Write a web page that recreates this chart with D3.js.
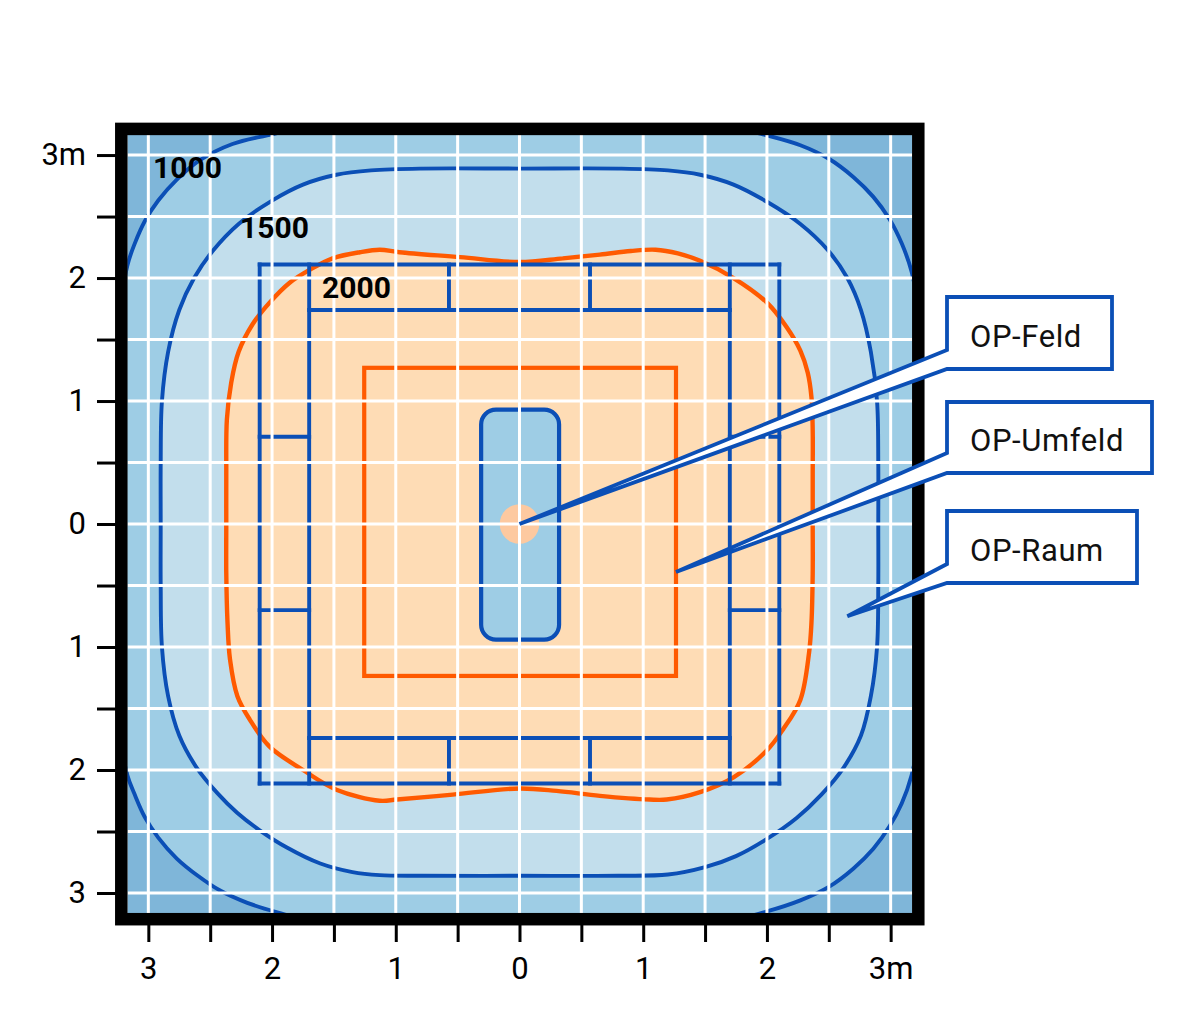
<!DOCTYPE html>
<html><head><meta charset="utf-8">
<script src="https://cdn.jsdelivr.net/npm/d3@7"></script>
<style>body{margin:0;background:#fff}</style>
</head><body>
<svg id="chart" width="1200" height="1017"></svg>
<script>
// ---- data (metres) ----
const xTickValues = [-3,-2.5,-2,-1.5,-1,-0.5,0,0.5,1,1.5,2,2.5,3];
const xTickLabels = ["3","","2","","1","","0","","1","","2","","3m"];
const yTickValues = [3,2.5,2,1.5,1,0.5,0,-0.5,-1,-1.5,-2,-2.5,-3];
const yTickLabels = ["3m","","2","","1","","0","","1","","2","","3"];
const gridValues = [-3,-2.5,-2,-1.5,-1,-0.5,0,0.5,1,1.5,2,2.5,3];

const contourLevels = [1000, 1500, 2000];

const contour1000 = [
  [0,3.34],[1.0,3.31],[1.6,3.25],[2.0,3.16],[2.27,3.08],[2.5,2.97],[2.7,2.82],[2.86,2.66],[2.99,2.48],[3.09,2.28],[3.17,2.05],[3.25,1.6],[3.31,1.0],[3.34,0],
  [3.31,-1.0],[3.25,-1.6],[3.17,-2.04],[3.09,-2.27],[2.99,-2.46],[2.86,-2.64],[2.7,-2.8],[2.5,-2.95],[2.27,-3.06],[2.0,-3.15],[1.6,-3.25],[1.0,-3.31],[0,-3.34],
  [-1.0,-3.31],[-1.6,-3.25],[-1.95,-3.16],[-2.2,-3.08],[-2.42,-2.98],[-2.6,-2.86],[-2.77,-2.72],[-2.92,-2.55],[-3.03,-2.38],[-3.11,-2.2],[-3.17,-2.04],[-3.25,-1.6],[-3.31,-1.0],[-3.34,0],
  [-3.31,1.0],[-3.25,1.6],[-3.17,2.1],[-3.11,2.28],[-3.03,2.46],[-2.92,2.63],[-2.77,2.8],[-2.58,2.96],[-2.32,3.09],[-2.04,3.16],[-1.6,3.25],[-1.0,3.31]
];

const contour1500 = [
  [0,2.89],[0.8,2.89],[1.2,2.875],[1.46,2.84],[1.73,2.76],[2.0,2.62],[2.27,2.44],[2.49,2.23],[2.65,2.0],[2.76,1.74],[2.84,1.4],[2.89,1.0],[2.9,0.5],[2.9,0],
  [2.9,-0.5],[2.89,-1.0],[2.84,-1.4],[2.76,-1.72],[2.62,-1.98],[2.44,-2.2],[2.24,-2.39],[2.0,-2.56],[1.75,-2.7],[1.5,-2.79],[1.2,-2.85],[0.8,-2.86],[0,-2.86],
  [-0.8,-2.86],[-1.13,-2.855],[-1.35,-2.83],[-1.61,-2.76],[-1.88,-2.63],[-2.1,-2.49],[-2.28,-2.35],[-2.44,-2.19],[-2.61,-1.98],[-2.75,-1.72],[-2.84,-1.4],[-2.89,-1.0],[-2.9,-0.5],[-2.9,0],
  [-2.9,0.5],[-2.89,1.0],[-2.84,1.4],[-2.75,1.74],[-2.63,2.0],[-2.48,2.22],[-2.27,2.44],[-2.0,2.63],[-1.75,2.76],[-1.48,2.84],[-1.2,2.875],[-0.8,2.89]
];

const contour2000 = [
  [0,2.13],[0.35,2.16],[0.65,2.19],[0.9,2.22],[1.1,2.23],[1.28,2.2],[1.46,2.14],[1.73,2.0],[2.0,1.8],[2.16,1.6],[2.27,1.41],[2.33,1.23],[2.36,1.03],[2.37,0.76],[2.37,0.4],[2.37,0],
  [2.37,-0.4],[2.36,-0.8],[2.34,-1.05],[2.27,-1.43],[2.13,-1.67],[2.0,-1.84],[1.73,-2.06],[1.46,-2.18],[1.19,-2.24],[1.05,-2.24],[0.65,-2.21],[0.3,-2.17],[0,-2.15],
  [-0.54,-2.2],[-0.99,-2.24],[-1.13,-2.25],[-1.48,-2.16],[-1.75,-2.0],[-2.02,-1.81],[-2.18,-1.59],[-2.28,-1.4],[-2.34,-1.1],[-2.36,-0.8],[-2.37,-0.4],[-2.37,0],
  [-2.37,0.4],[-2.365,0.85],[-2.33,1.15],[-2.27,1.4],[-2.16,1.62],[-2.02,1.8],[-1.86,1.96],[-1.69,2.07],[-1.51,2.16],[-1.29,2.21],[-1.13,2.23],[-0.97,2.21],[-0.48,2.17]
];

// OP-Tisch (table) outline segments [x1,y1,x2,y2]
const tableSegments = [
  [-2.1,2.11,2.1,2.11],[2.1,2.11,2.1,-2.11],[2.1,-2.11,-2.1,-2.11],[-2.1,-2.11,-2.1,2.11],
  [-1.7,2.11,-1.7,-2.11],[1.7,2.11,1.7,-2.11],
  [-1.7,1.74,1.7,1.74],[-1.7,-1.74,1.7,-1.74],
  [-0.57,1.74,-0.57,2.11],[0.57,1.74,0.57,2.11],[-0.57,-1.74,-0.57,-2.11],[0.57,-1.74,0.57,-2.11],
  [-2.1,0.71,-1.7,0.71],[1.7,0.71,2.1,0.71],[-2.1,-0.70,-1.7,-0.70],[1.7,-0.70,2.1,-0.70]
];
const umfeldRect = [-1.255, 1.27, 1.265, -1.235];   // x1,y1,x2,y2
const feldRect = [-0.31, 0.93, 0.32, -0.94];
const feldCorner = 0.12;
const centerSpot = [0, 0, 0.16];
const calloutNames = ["OP-Feld", "OP-Umfeld", "OP-Raum"];
const calloutTargets = [[0.0, 0.0], [1.265, -0.39], [2.65, -0.75]];

// ---- colours ----
const C = {
  dark: "#7fb6d9", mid: "#9ecde5", light: "#c2deec", peach: "#fedcb5",
  spot: "#fdc9a0", blue: "#0b4fb6", orange: "#ff5a00"
};

const svg = d3.select("#chart");
const x = d3.scaleLinear().domain([-3.17, 3.175]).range([127.3, 912.3]);
const y = d3.scaleLinear().domain([3.163, -3.165]).range([135, 913.3]);

svg.append("defs").append("clipPath").attr("id", "plotClip")
  .append("rect").attr("x", 127.3).attr("y", 135).attr("width", 785).attr("height", 778.3);

const plot = svg.append("g").attr("clip-path", "url(#plotClip)");
plot.append("rect").attr("x", 127.3).attr("y", 135).attr("width", 785).attr("height", 778.3).attr("fill", C.dark);

const ring = d3.line().x(d => x(d[0])).y(d => y(d[1])).curve(d3.curveCatmullRomClosed.alpha(0.5));
const contours = [
  {pts: contour1000, fill: C.mid, stroke: C.blue, w: 3.9},
  {pts: contour1500, fill: C.light, stroke: C.blue, w: 3.9},
  {pts: contour2000, fill: C.peach, stroke: C.orange, w: 4.4}
];
contours.forEach(c => {
  plot.append("path").attr("d", ring(c.pts)).attr("fill", c.fill);
});
contours.forEach(c => {
  plot.append("path").attr("d", ring(c.pts)).attr("fill", "none")
    .attr("stroke", c.stroke).attr("stroke-width", c.w);
});

// table
plot.append("g").selectAll("line").data(tableSegments).join("line")
  .attr("x1", d => x(d[0])).attr("y1", d => y(d[1]))
  .attr("x2", d => x(d[2])).attr("y2", d => y(d[3]))
  .attr("stroke", C.blue).attr("stroke-width", 3.9).attr("stroke-linecap", "square");

// OP-Umfeld
plot.append("rect")
  .attr("x", x(umfeldRect[0])).attr("y", y(umfeldRect[1]))
  .attr("width", x(umfeldRect[2]) - x(umfeldRect[0])).attr("height", y(umfeldRect[3]) - y(umfeldRect[1]))
  .attr("fill", "none").attr("stroke", C.orange).attr("stroke-width", 4.2);

// OP-Feld
plot.append("rect")
  .attr("x", x(feldRect[0])).attr("y", y(feldRect[1]))
  .attr("width", x(feldRect[2]) - x(feldRect[0])).attr("height", y(feldRect[3]) - y(feldRect[1]))
  .attr("rx", x(feldCorner) - x(0)).attr("ry", x(feldCorner) - x(0))
  .attr("fill", C.mid).attr("stroke", C.blue).attr("stroke-width", 4.2);
plot.append("circle").attr("cx", x(centerSpot[0])).attr("cy", y(centerSpot[1]))
  .attr("r", x(centerSpot[2]) - x(0)).attr("fill", C.spot);

// grid
const grid = plot.append("g").attr("stroke", "#fff").attr("stroke-width", 3);
grid.selectAll(".gv").data(gridValues).join("line").attr("class", "gv")
  .attr("x1", d => x(d)).attr("x2", d => x(d)).attr("y1", 135).attr("y2", 913.3);
grid.selectAll(".gh").data(gridValues).join("line").attr("class", "gh")
  .attr("y1", d => y(d)).attr("y2", d => y(d)).attr("x1", 127.3).attr("x2", 912.3);

// frame
svg.append("rect").attr("x", 121.3).attr("y", 128.9).attr("width", 797).attr("height", 790.3)
  .attr("fill", "none").attr("stroke", "#000").attr("stroke-width", 12.5);

// axes
const FONT = "Roboto, 'DejaVu Sans', sans-serif";
const yAxis = d3.axisLeft(y).tickValues(yTickValues).tickSize(19).tickPadding(11)
  .tickFormat((d, i) => yTickLabels[i]);
const gy = svg.append("g").attr("transform", "translate(116,0)").call(yAxis);
const xAxis = d3.axisBottom(x).tickValues(xTickValues).tickSize(17).tickPadding(15)
  .tickFormat((d, i) => xTickLabels[i]);
const gx = svg.append("g").attr("transform", "translate(0,925)").call(xAxis);
[gx, gy].forEach(g => {
  g.select(".domain").remove();
  g.selectAll(".tick line").attr("stroke", "#000").attr("stroke-width", 3);
  g.selectAll(".tick text").attr("font-family", FONT).attr("font-size", 31).attr("fill", "#000");
});

// contour labels
const labelPos = [[153, 178], [240, 238], [322, 298]];
svg.append("g").selectAll("text").data(contourLevels).join("text")
  .attr("x", (d, i) => labelPos[i][0]).attr("y", (d, i) => labelPos[i][1])
  .attr("font-family", FONT).attr("font-weight", "bold").attr("font-size", 30)
  .attr("fill", "#000").text(d => d);

// callouts
const boxes = [
  {T: 297, B: 369, R: 1112, open: 19},
  {T: 402, B: 473, R: 1152, open: 20},
  {T: 511, B: 583, R: 1137, open: 19}
];
const L = 947;
const cg = svg.append("g");
calloutNames.forEach((name, i) => {
  const b = boxes[i];
  const tx = x(calloutTargets[i][0]), ty = y(calloutTargets[i][1]);
  const p = d3.path();
  p.moveTo(L, b.T); p.lineTo(b.R, b.T); p.lineTo(b.R, b.B); p.lineTo(L, b.B);
  p.lineTo(tx, ty); p.lineTo(L, b.B - b.open); p.closePath();
  cg.append("path").attr("d", p.toString()).attr("fill", "#fff")
    .attr("stroke", C.blue).attr("stroke-width", 3.8).attr("stroke-linejoin", "miter");
  cg.append("text").attr("x", 970).attr("y", b.B - 22).attr("font-family", FONT)
    .attr("font-size", 31).attr("letter-spacing", 0.6).attr("fill", "#111").text(name);
});
</script>
</body></html>
